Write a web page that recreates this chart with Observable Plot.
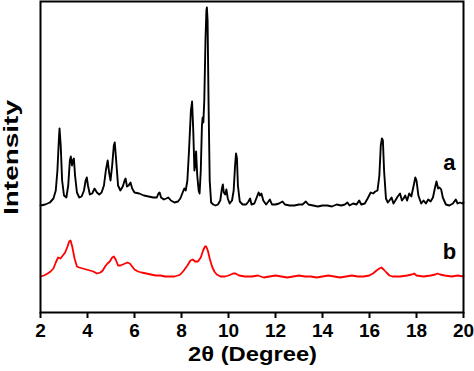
<!DOCTYPE html>
<html><head><meta charset="utf-8">
<script src="https://cdn.jsdelivr.net/npm/d3@7"></script>
<script src="https://cdn.jsdelivr.net/npm/@observablehq/plot@0.6"></script>
<style>html,body{margin:0;padding:0;background:#fff;}</style>
</head><body>
<div id="chart"></div>
<script>
// 2θ positions and intensities (arbitrary units)
const aTheta = [2.0,2.2,2.4,2.55,2.65,2.72,2.78,2.81,2.86,2.92,3.0,3.1,3.18,3.25,3.29,3.34,3.38,3.42,3.47,3.55,3.65,3.75,3.85,3.92,3.97,4.02,4.1,4.2,4.3,4.4,4.5,4.6,4.7,4.78,4.86,4.92,4.98,5.05,5.12,5.16,5.22,5.3,5.4,5.5,5.58,5.62,5.68,5.75,5.83,5.9,6.0,6.2,6.4,6.6,6.8,6.95,7.02,7.07,7.13,7.25,7.35,7.44,7.55,7.7,7.85,7.95,8.05,8.12,8.18,8.25,8.32,8.4,8.45,8.5,8.55,8.58,8.62,8.67,8.73,8.77,8.82,8.87,8.9,8.93,8.97,9.02,9.06,9.08,9.11,9.15,9.2,9.26,9.35,9.45,9.55,9.65,9.72,9.76,9.8,9.86,9.91,9.97,10.05,10.15,10.22,10.28,10.32,10.36,10.4,10.48,10.6,10.75,10.85,10.92,10.98,11.1,11.2,11.28,11.34,11.4,11.48,11.6,11.7,11.76,11.85,12.0,12.15,12.3,12.4,12.6,12.8,13.0,13.15,13.29,13.4,13.6,13.8,14.0,14.2,14.4,14.6,14.8,14.95,15.06,15.15,15.3,15.45,15.56,15.65,15.8,15.92,16.05,16.15,16.25,16.34,16.42,16.48,16.53,16.57,16.62,16.7,16.78,16.85,16.94,17.02,17.1,17.2,17.3,17.38,17.45,17.52,17.6,17.69,17.78,17.88,17.95,18.0,18.08,18.2,18.3,18.4,18.5,18.6,18.7,18.78,18.85,18.92,18.98,19.05,19.12,19.25,19.4,19.55,19.67,19.75,19.85,19.95,20.0];
const aIntensity = [107,108,110,114,122,142,172,184,167,132,117,115,127,152,156,147,152,154,137,120,115,116,122,132,135,127,118,119,124,120,118,120,127,142,152,140,132,147,167,170,152,127,122,126,132,134,126,127,130,124,120,119,117,116,115,115,119,120,115,113,114,115,112,110,111,114,120,124,122,132,162,202,211,182,142,147,161,137,122,119,142,187,195,190,212,272,302,305,292,212,132,110,108,107,108,112,124,128,120,118,123,114,109,112,122,147,159,154,127,111,108,108,111,114,108,109,115,120,117,119,112,108,111,113,108,108,109,111,108,107,107,108,108,111,108,107,106,107,107,106,108,107,108,110,107,109,108,112,108,109,114,120,119,121,122,137,167,174,172,142,114,110,112,115,109,112,116,119,112,114,117,112,119,116,127,135,132,117,109,112,109,113,111,115,124,131,124,125,123,115,108,107,109,113,109,110,109,110];

const bTheta = [2.0,2.15,2.3,2.43,2.55,2.65,2.75,2.85,2.95,3.05,3.15,3.22,3.28,3.35,3.45,3.55,3.65,3.8,3.95,4.1,4.25,4.4,4.55,4.65,4.75,4.85,4.95,5.05,5.12,5.2,5.3,5.4,5.5,5.6,5.7,5.8,5.9,6.0,6.15,6.3,6.5,6.7,6.9,7.1,7.3,7.5,7.7,7.85,7.95,8.1,8.25,8.38,8.48,8.58,8.7,8.82,8.92,9.0,9.05,9.12,9.2,9.3,9.4,9.5,9.66,9.85,10.0,10.2,10.3,10.45,10.7,11.0,11.25,11.5,11.75,12.0,12.25,12.5,12.75,13.0,13.25,13.5,13.75,14.0,14.25,14.5,14.75,15.0,15.25,15.5,15.75,15.99,16.15,16.3,16.42,16.51,16.6,16.72,16.85,16.98,17.3,17.6,17.8,17.9,18.0,18.3,18.6,18.8,18.89,19.0,19.2,19.5,19.75,20.0];
const bIntensity = [36,37,39,41,44,50,55,54,57,60,66,71,72,66,54,46,45,44,43,42,41,39,40,42,46,49,51,55,56,53,47,47,48,49,50,49,46,43,41,40,39,38,37,37,36,36,36,37,38,42,47,52,53,51,51,55,62,66,66,62,54,46,41,38,36,36,37,39,39,37,36,36,37,35,36,37,36,35,36,37,36,36,35,36,37,36,35,36,37,36,36,37,39,42,44,45,43,40,37,36,36,37,38,39,37,36,37,38,39,38,37,36,37,36];

const xTicks = [2,4,6,8,10,12,14,16,18,20];
const sampleNames = ["a","b"];
const sampleLabelTheta = [19.4,19.4];
const sampleLabelIntensity = [150,61];

const seriesA = aTheta.map((t,i)=>({t, v:aIntensity[i]}));
const seriesB = bTheta.map((t,i)=>({t, v:bIntensity[i]}));
const labels = sampleNames.map((n,i)=>({n, t:sampleLabelTheta[i], v:sampleLabelIntensity[i]}));

const font = "Arial, 'Liberation Sans', Helvetica, sans-serif";
const svg = Plot.plot({
  width: 474, height: 371,
  marginLeft: 40, marginRight: 11, marginTop: 1, marginBottom: 59,
  style: {fontFamily: font, background: "white", color: "black"},
  x: {domain: [2,20]},
  y: {domain: [0,311], axis: null},
  marks: [
    Plot.axisX({ticks: xTicks, tickSize: 6, tickPadding: 5, fontSize: 19, fontWeight: "bold", label: null, strokeWidth: 2, tickFormat: d3.format("d")}),
    Plot.line(seriesB, {x:"t", y:"v", stroke:"#ff0000", strokeWidth:1.8}),
    Plot.line(seriesA, {x:"t", y:"v", stroke:"black", strokeWidth:1.9}),
    Plot.text(labels, {x:"t", y:"v", text:"n", fontSize:22, fontWeight:"bold", fill:"black"}),
    Plot.frame({stroke:"black", strokeWidth:2})
  ]
});
const s = d3.select(svg);
s.append("text").text("2θ (Degree)")
  .attr("x", 252.5).attr("y", 361)
  .attr("text-anchor","middle").attr("font-size",20).attr("font-weight","bold")
  .attr("font-family", font).attr("fill","black")
  .attr("textLength",129).attr("lengthAdjust","spacingAndGlyphs");
s.append("text").text("Intensity")
  .attr("transform","translate(17.5,157.5) rotate(-90)")
  .attr("text-anchor","middle").attr("font-size",20).attr("font-weight","bold")
  .attr("font-family", font).attr("fill","black")
  .attr("textLength",115).attr("lengthAdjust","spacingAndGlyphs");
document.getElementById("chart").appendChild(svg);
</script>
</body></html>
